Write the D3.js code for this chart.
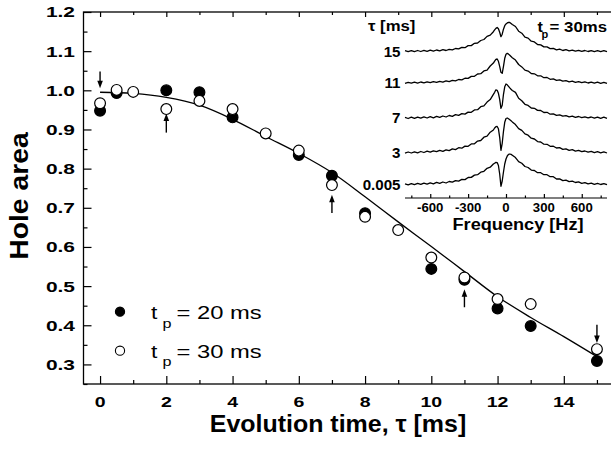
<!DOCTYPE html>
<html><head><meta charset="utf-8">
<script src="https://cdn.jsdelivr.net/npm/d3@7/dist/d3.min.js"></script>
<style>
body{margin:0;background:#fff}
svg{display:block}
text{font-family:"Liberation Sans",Arial,Helvetica,sans-serif;fill:#000}
</style>
</head><body>
<script>
// ---------------- data ----------------
const filledT = [0, 0.5, 2, 3, 4, 6, 7, 8, 10, 11, 12, 13, 15];
const filledV = [0.948, 0.993, 1.0, 0.995, 0.931, 0.835, 0.782, 0.686, 0.544, 0.516, 0.443, 0.398, 0.309];
const openT = [0, 0.5, 1, 2, 3, 4, 5, 6, 7, 8, 9, 10, 11, 12, 13, 15];
const openV = [0.967, 1.001, 0.996, 0.952, 0.973, 0.952, 0.890, 0.846, 0.758, 0.677, 0.643, 0.573, 0.522, 0.467, 0.454, 0.339];
const fitT = [0, 1, 2, 3, 4, 5, 6, 7, 8, 9, 10, 11, 12, 13, 14, 15];
const fitV = [0.995, 0.992, 0.982, 0.962, 0.926, 0.882, 0.839, 0.790, 0.728, 0.664, 0.601, 0.537, 0.473, 0.420, 0.371, 0.320];
const arrowT = [0, 2, 7, 11, 15];
const arrowFrom = [1.048, 0.892, 0.687, 0.446, 0.401];
const arrowTo = [1.005, 0.941, 0.733, 0.492, 0.355];
const xTickLabels = [0, 2, 4, 6, 8, 10, 12, 14];
const yTickLabels = [0.3, 0.4, 0.5, 0.6, 0.7, 0.8, 0.9, 1.0, 1.1, 1.2];
const legendLabels = ["= 20 ms", "= 30 ms"];

// inset: hole-burning spectra
const insetTau = ["0.005", "3", "7", "11", "15"];
const insetOffsets = [0, 31.7, 66.7, 101.7, 133.3];
const freqTicks = [-600, -300, 0, 300, 600];
const freq = [-800,-775,-750,-725,-700,-675,-650,-625,-600,-575,-550,-525,-500,-475,-450,-425,-400,-375,-350,-325,-300,-275,-250,-225,-200,-175,-150,-125,-100,
  -90,-80,-70,-60,-50,-40,-30,-20,-10,0,10,20,30,40,50,
  75,100,125,150,175,200,225,250,275,300,325,350,375,400,425,450,475,500,525,550,575,600,625,650,675,700,725,750,775,800];
const spec0005 = [1.1,0.1,1.4,0.3,1.6,0.6,1.9,0.9,2.2,1.2,2.6,1.6,3.0,2.0,3.5,2.8,4.4,3.9,5.6,5.4,7.5,7.6,9.9,10.3,12.8,13.7,16.7,17.8,21.0,
  21.8,22.6,22.4,19.5,11.0,-1.3,4.0,13.0,21.0,26.0,29.0,30.6,31.0,30.6,29.8,
  27.4,23.4,21.7,18.5,17.5,14.9,14.5,12.3,12.3,10.3,10.3,8.3,8.3,6.0,6.1,4.4,4.8,3.3,3.9,2.5,3.1,1.7,2.4,1.1,1.9,0.7,1.6,0.5,1.4,0.3];
const spec3 = [0.1,1.3,0.3,1.5,0.5,1.8,0.8,2.1,1.1,2.5,1.6,2.9,2.0,3.5,2.7,4.4,3.7,5.6,5.1,7.2,7.0,9.4,9.5,12.2,12.8,16.1,17.2,21.1,23.3,
  25.3,26.6,26.8,24.5,16.0,3.0,10.0,22.0,31.0,34.8,35.3,34.6,33.6,32.6,31.4,
  28.7,24.7,22.9,19.4,18.1,15.1,14.3,11.7,11.3,9.1,9.0,7.0,7.1,5.3,5.6,4.0,4.5,3.0,3.6,2.2,2.9,1.6,2.3,1.1,1.9,0.7,1.6,0.5,1.4,0.3];
const spec7 = [0.9,-0.2,1.1,-0.1,1.2,0.1,1.4,0.3,1.6,0.5,1.9,0.9,2.3,1.3,2.8,2.0,3.6,2.9,4.7,4.2,6.2,6.0,8.4,8.6,11.6,12.4,16.2,18.7,24.0,
  26.0,28.5,28.0,25.0,19.0,10.0,13.0,24.0,31.5,34.3,33.5,32.0,30.4,29.0,27.8,
  25.9,20.0,17.5,14.0,12.9,10.3,10.0,7.9,7.8,5.8,6.0,4.1,4.5,3.0,3.5,2.2,2.7,1.4,2.2,1.0,1.8,0.7,1.5,0.4,1.3,0.1,1.2,0.0,1.1,-0.1];
const spec11 = [0.0,1.0,0.1,1.1,0.2,1.3,0.4,1.5,0.6,1.7,0.9,2.0,1.2,2.4,1.7,2.9,2.4,3.8,3.4,5.1,4.9,6.9,7.0,9.3,9.6,12.4,13.2,17.3,20.2,
  22.2,24.0,24.3,22.0,17.0,11.0,10.0,17.0,25.0,29.0,30.0,29.2,28.0,26.8,25.6,
  23.2,18.8,16.4,13.2,12.2,9.8,9.5,7.5,7.5,5.6,5.8,4.0,4.4,2.9,3.4,2.1,2.6,1.4,2.1,0.9,1.7,0.6,1.4,0.3,1.2,0.1,1.1,0.0,1.0,-0.1];
const spec15 = [1.0,0.0,1.1,0.1,1.2,0.2,1.3,0.4,1.5,0.6,1.7,0.8,2.0,1.2,2.4,1.8,3.2,2.8,4.4,4.0,6.1,6.1,8.4,8.7,11.2,12.2,15.3,16.6,20.0,
  21.8,23.3,24.2,23.0,19.5,15.0,17.5,22.5,26.0,27.8,28.8,29.4,29.2,28.2,27.2,
  25.2,20.5,18.5,14.5,13.6,10.5,9.8,7.2,6.8,4.8,4.8,3.1,3.3,1.9,2.5,1.2,2.0,0.8,1.6,0.5,1.4,0.3,1.2,0.2,1.1,0.1,1.0,0.0,1.0,0.0];
const spectra = [spec0005, spec3, spec7, spec11, spec15];

// ---------------- drawing ----------------
const W = 611, H = 450;
const svg = d3.select("body").append("svg").attr("width", W).attr("height", H);
const x = d3.scaleLinear().domain([-0.5, 15.5]).range([83.5, 613.5]);
const y = d3.scaleLinear().domain([0.25, 1.2]).range([384, 12]);

function label(g, px, py, str, o) {
  return g.append("text")
    .attr("transform", `translate(${px},${py})${o.rot ? " rotate(" + o.rot + ")" : ""} scale(${o.sx || 1},1)`)
    .attr("text-anchor", o.anchor || "start")
    .style("font-size", o.size + "px")
    .style("font-weight", o.weight || "bold")
    .text(str);
}

const axisG = svg.append("g");
function styleAxis(g) {
  g.select(".domain").remove();
  g.selectAll(".tick line").attr("stroke", "#000").attr("stroke-width", 1.2);
  g.selectAll(".tick text").remove();
}
// bottom
axisG.append("g").attr("transform", "translate(0,384)")
  .call(d3.axisBottom(x).tickValues(d3.range(0, 16, 2)).tickSize(-8)).call(styleAxis);
axisG.append("g").attr("transform", "translate(0,384)")
  .call(d3.axisBottom(x).tickValues(d3.range(1, 16, 2)).tickSize(-4)).call(styleAxis);
// top
axisG.append("g").attr("transform", "translate(0,12)")
  .call(d3.axisTop(x).tickValues(d3.range(0, 16, 2)).tickSize(-5)).call(styleAxis);
axisG.append("g").attr("transform", "translate(0,12)")
  .call(d3.axisTop(x).tickValues(d3.range(1, 16, 2)).tickSize(-3)).call(styleAxis);
// left
axisG.append("g").attr("transform", "translate(83.5,0)")
  .call(d3.axisLeft(y).tickValues(yTickLabels).tickSize(-8)).call(styleAxis);
axisG.append("g").attr("transform", "translate(83.5,0)")
  .call(d3.axisLeft(y).tickValues(d3.range(0.25, 1.2, 0.1)).tickSize(-4)).call(styleAxis);

// frame
svg.append("rect")
  .attr("x", x(-0.5)).attr("y", y(1.2))
  .attr("width", x(15.5) - x(-0.5)).attr("height", y(0.25) - y(1.2))
  .attr("fill", "none").attr("stroke", "#000").attr("stroke-width", 1.3);

// tick labels
xTickLabels.forEach(v => label(svg, x(v), 406.5, String(v), {size: 15, sx: 1.3, anchor: "middle"}));
yTickLabels.forEach(v => label(svg, 75, y(v) + 5.4, v.toFixed(1), {size: 15.5, sx: 1.35, anchor: "end"}));

// axis titles
label(svg, 338, 431.5, "Evolution time, \u03c4 [ms]", {size: 24, sx: 1.04, anchor: "middle"});
label(svg, 28, 196, "Hole area", {size: 26, sx: 1.09, anchor: "middle", rot: -90});

// fit curve
svg.append("path")
  .datum(fitT.map((t, i) => [t, fitV[i]]))
  .attr("fill", "none").attr("stroke", "#000").attr("stroke-width", 1.3)
  .attr("d", d3.line().x(d => x(d[0])).y(d => y(d[1])).curve(d3.curveMonotoneX));

// arrows
arrowT.forEach((t, i) => {
  const ax = x(t), y0 = y(arrowFrom[i]), y1 = y(arrowTo[i]);
  const dir = Math.sign(y1 - y0);
  svg.append("line").attr("x1", ax).attr("x2", ax).attr("y1", y0).attr("y2", y1 - dir * 4)
    .attr("stroke", "#000").attr("stroke-width", 1.4);
  svg.append("path")
    .attr("d", `M${ax},${y1} L${ax - 2.8},${y1 - dir * 7.5} L${ax + 2.8},${y1 - dir * 7.5} Z`)
    .attr("fill", "#000");
});

// points
svg.append("g").selectAll("circle").data(filledT.map((t, i) => [t, filledV[i]])).join("circle")
  .attr("cx", d => x(d[0])).attr("cy", d => y(d[1])).attr("r", 5.4)
  .attr("fill", "#000").attr("stroke", "#000").attr("stroke-width", 1.2);
svg.append("g").selectAll("circle").data(openT.map((t, i) => [t, openV[i]])).join("circle")
  .attr("cx", d => x(d[0])).attr("cy", d => y(d[1])).attr("r", 5.4)
  .attr("fill", "#fff").attr("stroke", "#000").attr("stroke-width", 1.2);

// legend
const lg = svg.append("g");
[["#000", 311.7, 319.3], ["#fff", 350.7, 357.7]].forEach((s, i) => {
  lg.append("circle").attr("cx", 120).attr("cy", s[1]).attr("r", 4.6)
    .attr("fill", s[0]).attr("stroke", "#000").attr("stroke-width", 1.1);
  label(lg, 151, s[2], "t", {size: 19, sx: 1.2, weight: "normal"});
  label(lg, 162.5, s[2] + 8.5, "p", {size: 13.5, sx: 1.2, weight: "normal"});
  label(lg, 176.5, s[2], legendLabels[i], {size: 19, sx: 1.25, weight: "normal"});
});

// ---------------- inset ----------------
const ins = svg.append("g");
const xf = d3.scaleLinear().domain([-800, 800]).range([405, 607]);
const yf = d3.scaleLinear().domain([0, 133.3]).range([185, 51.7]);
const specLine = d3.line().x(d => xf(d[0])).y(d => yf(d[1]));
spectra.forEach((s, k) => {
  ins.append("path")
    .datum(freq.map((f, i) => [f, s[i] + insetOffsets[k]]))
    .attr("fill", "none").attr("stroke", "#000").attr("stroke-width", 1.3)
    .attr("stroke-linejoin", "round")
    .attr("d", specLine);
  label(ins, 400.5, yf(insetOffsets[k]) + 5, insetTau[k], {size: 14, sx: 1.08, anchor: "end"});
});
// inset axis
ins.append("line").attr("x1", xf(-800)).attr("x2", xf(800)).attr("y1", 198).attr("y2", 198)
  .attr("stroke", "#000").attr("stroke-width", 1.2);
ins.append("g").attr("transform", "translate(0,198)")
  .call(d3.axisTop(xf).tickValues(freqTicks).tickSize(4)).call(styleAxis);
ins.append("g").attr("transform", "translate(0,198)")
  .call(d3.axisTop(xf).tickValues([-750, -450, -150, 150, 450, 750]).tickSize(2.5)).call(styleAxis);
freqTicks.forEach(f => label(ins, xf(f), 211.7, String(f), {size: 12, sx: 1.1, anchor: "middle"}));
label(ins, 518, 230, "Frequency [Hz]", {size: 16.5, sx: 1.1, anchor: "middle"});
label(ins, 368, 30.5, "\u03c4 [ms]", {size: 15.5, sx: 1.08});
label(ins, 537.5, 31.7, "t", {size: 14, sx: 1.15});
label(ins, 541.5, 38, "p", {size: 10, sx: 1.1});
label(ins, 607, 31.7, "= 30ms", {size: 14, sx: 1.2, anchor: "end"});
</script>
</body></html>
